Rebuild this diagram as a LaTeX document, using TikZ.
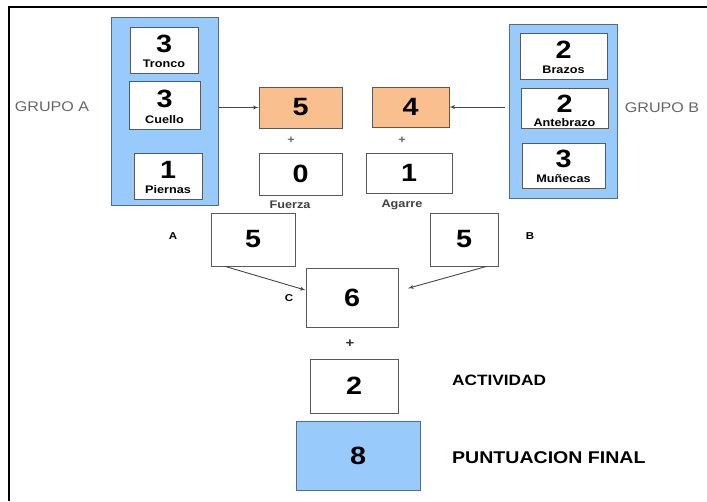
\documentclass[tikz,border=0pt]{standalone}
\usepackage{fontspec}
\setmainfont{Liberation Sans}[FakeStretch=1.15]
\usepackage{xcolor}
\definecolor{azulgrupo}{RGB}{153, 202, 252}
\definecolor{bordeazul}{RGB}{84, 108, 140}
\definecolor{naranja}{RGB}{250, 191, 143}
\definecolor{grislinea}{RGB}{70, 70, 70}
\usetikzlibrary{arrows, positioning}
\newcommand{\tam}[1]{\fontsize{#1}{#1}\selectfont}

\begin{document}
\begin{tikzpicture}[x=1pt, y=-1pt,
        grupo/.style={rectangle, draw=bordeazul, fill=azulgrupo, line width=1pt, inner sep=0pt},
        caja/.style={rectangle, draw=black!65, fill=white, line width=0.8pt, inner sep=0pt, font=\tam{25}\bfseries},
        cajaseg/.style={caja, text depth=12pt},
        parte/.style={inner sep=0pt, font=\tam{11}\bfseries},
        letra/.style={inner sep=0pt, font=\tam{10}\bfseries},
        signo/.style={inner sep=0pt, text=black!60, font=\tam{11}\bfseries},
        titulo/.style={inner sep=0pt, font=\tam{15}\bfseries, anchor=west},
        line/.style={draw=grislinea, -latex', line width=0.9pt}]
        \useasboundingbox (0,0) rectangle (707,501);
        \draw[line width=1.6pt] (9,501) -- (9,7) -- (707,7);

        % Grupo A: tronco, cuello y piernas
        \node [grupo, minimum width=107pt, minimum height=188pt] (grpA) at (165,111) {};
        \node [cajaseg, minimum width=68pt, minimum height=46pt] (tronco) at (164,50) {3};
        \node [cajaseg, minimum width=71pt, minimum height=48pt] (cuello) at (164.5,105) {3};
        \node [cajaseg, minimum width=68pt, minimum height=46pt] (piernas) at (168,176) {1};
        \node [parte, above=6pt of tronco.south, anchor=south] (lblTronco) {Tronco};
        \node [parte, above=6pt of cuello.south, anchor=south] (lblCuello) {Cuello};
        \node [parte, above=6pt of piernas.south, anchor=south] (lblPiernas) {Piernas};
        \node [inner sep=0pt, text=black!60, font=\tam{14}] (txtA) at (52,107) {GRUPO A};

        % Grupo B: brazos, antebrazo y munecas
        \node [grupo, minimum width=108pt, minimum height=174pt] (grpB) at (563,111) {};
        \node [cajaseg, minimum width=87pt, minimum height=46pt] (brazos) at (563.5,56) {2};
        \node [cajaseg, minimum width=87pt, minimum height=40pt, text depth=8pt] (antebrazo) at (564.5,108) {2};
        \node [cajaseg, minimum width=83pt, minimum height=45pt, text depth=14pt] (munecas) at (563.5,165.5) {3};
        \node [parte, above=6pt of brazos.south, anchor=south] (lblBrazos) {Brazos};
        \node [parte, above=2pt of antebrazo.south, anchor=south] (lblAntebrazo) {Antebrazo};
        \node [parte, above=6pt of munecas.south, anchor=south] (lblMunecas) {Muñecas};
        \node [inner sep=0pt, text=black!60, font=\tam{14}] (txtB) at (662,108) {GRUPO B};

        % Puntuaciones parciales
        \node [caja, fill=naranja, minimum width=83pt, minimum height=41pt] (puntA) at (300.5,107.5) {5};
        \node [caja, fill=naranja, minimum width=77pt, minimum height=40pt] (puntB) at (410.5,107) {4};
        \node [signo] (masA) at (291,140) {+};
        \node [signo] (masB) at (402,140) {+};
        \node [caja, minimum width=83pt, minimum height=42pt] (fuerza) at (300.5,174) {0};
        \node [caja, minimum width=86pt, minimum height=40pt] (agarre) at (409,173) {1};
        \node [parte, font=\tam{11}\bfseries, text=black!75] (lblFuerza) at (290,205) {Fuerza};
        \node [parte, font=\tam{11}\bfseries, text=black!75] (lblAgarre) at (402,205) {Agarre};

        % Tabla C
        \node [caja, minimum width=84pt, minimum height=53pt] (totA) at (253,239.5) {5};
        \node [caja, minimum width=68pt, minimum height=53pt] (totB) at (464,239.5) {5};
        \node [letra] (lblA) at (173,236) {A};
        \node [letra] (lblB) at (530,236) {B};
        \node [caja, minimum width=92pt, minimum height=59pt] (tablaC) at (352,297.5) {6};
        \node [letra] (lblC) at (289,298) {C};
        \node [signo, text=black!80, font=\tam{13}\bfseries] (masC) at (350,344) {+};
        \node [caja, minimum width=88pt, minimum height=54pt] (actividad) at (354,386) {2};
        \node [titulo] (lblActividad) at (452,380) {ACTIVIDAD};
        \node [caja, fill=azulgrupo, draw=bordeazul, minimum width=124pt, minimum height=69pt] (final) at (358,455.5) {8};
        \node [titulo, font=\tam{17}\bfseries] (lblFinal) at (452,458) {PUNTUACION FINAL};

        % Conexiones
        \path [line] (grpA.east |- puntA.west) -- (puntA.west);
        \path [line, shorten <=4pt] (grpB.west |- puntB.east) -- (puntB.east);
        \path [line] (totA.224) -- (tablaC.171);
        \path [line, shorten >=10pt] (totB.310) -- (tablaC.8);
    \end{tikzpicture}
\end{document}
